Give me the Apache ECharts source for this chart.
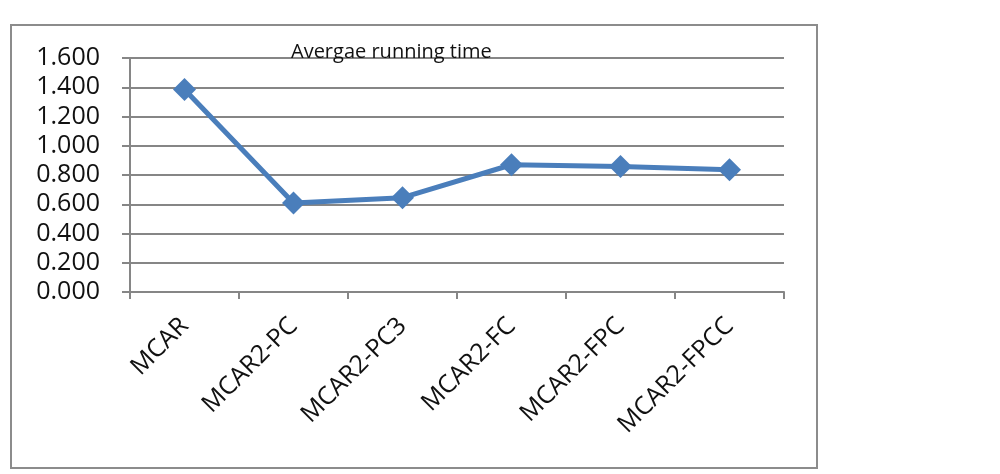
<!DOCTYPE html>
<html>
<head>
<meta charset="utf-8">
<script src="https://cdn.jsdelivr.net/npm/echarts@6/dist/echarts.min.js"></script>
<style>
  html, body { margin: 0; padding: 0; background: #fff; }
  #chart { width: 1000px; height: 474px; }
</style>
</head>
<body>
<div id="chart"></div>
<script>
const categories = ["MCAR", "MCAR2-PC", "MCAR2-PC3", "MCAR2-FC", "MCAR2-FPC", "MCAR2-FPCC"];
const runningTime = [1.385, 0.608, 0.645, 0.870, 0.858, 0.836];
const chartTitle = "Avergae running time";

const chart = echarts.init(document.getElementById("chart"));
const font = "'Open Sans', 'Noto Sans', sans-serif";

chart.setOption({
    animation: false,
    title: {
        text: chartTitle,
        left: 286,
        top: 37,
        textStyle: { fontFamily: font, fontSize: 20, fontWeight: "normal", color: "#111" }
    },
    graphic: [{
        type: "rect",
        shape: { x: 11, y: 25, width: 806, height: 443 },
        style: { fill: "none", stroke: "#8c8c8c", lineWidth: 2 }
    }],
    grid: { left: 130, right: 216, top: 58, bottom: 182 },
    xAxis: {
        type: "category",
        data: categories,
        boundaryGap: true,
        axisLine: { lineStyle: { color: "#868686", width: 2 } },
        axisTick: { show: true, length: 7, lineStyle: { color: "#868686", width: 2 } },
        axisLabel: {
            rotate: 45,
            margin: 30,
            fontFamily: font,
            fontSize: 25,
            color: "#111"
        }
    },
    yAxis: {
        type: "value",
        min: 0,
        max: 1.6,
        interval: 0.2,
        axisLine: { show: true, lineStyle: { color: "#868686", width: 2 } },
        axisTick: { show: true, length: 8, lineStyle: { color: "#868686", width: 2 } },
        splitLine: { lineStyle: { color: "#868686", width: 2 } },
        axisLabel: {
            formatter: v => v.toFixed(3),
            margin: 30,
            fontFamily: font,
            fontSize: 25,
            color: "#111"
        }
    },
    series: [{
        type: "line",
        data: runningTime,
        symbol: "diamond",
        symbolSize: 23,
        lineStyle: { color: "#4a7ebb", width: 5 },
        itemStyle: { color: "#4a7ebb" }
    }]
});
</script>
</body>
</html>
